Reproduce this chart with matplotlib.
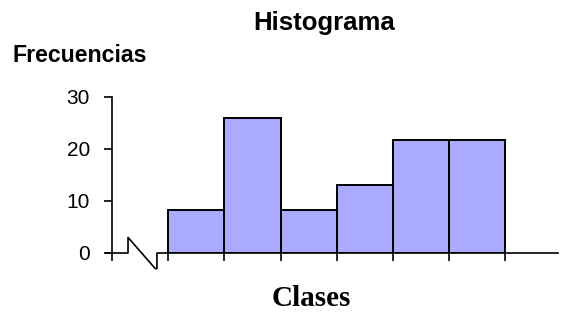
import matplotlib.pyplot as plt
import numpy as np

# class frequencies
edges = [1, 2, 3, 4, 5, 6, 7]
freqs = [8.3, 26, 8.3, 13, 21.7, 21.7]
yticks = [0, 10, 20, 30]

fig = plt.figure(figsize=(5.63, 3.12), dpi=100)
ax = fig.add_axes([106 / 563, 59 / 312, 452 / 563, 156 / 312])

widths = np.diff(edges)
ax.bar(edges[:-1], freqs, width=widths, align='edge',
       color='#aaaaff', edgecolor='black', linewidth=1.4, zorder=2)

ax.set_xlim(-0.107, 7.94)
ax.set_ylim(0, 30)

for s in ['top', 'right', 'bottom']:
    ax.spines[s].set_visible(False)
ax.spines['left'].set_position(('data', 0))
ax.spines['left'].set_linewidth(1.2)

# x axis with the break symbol
bx = [-0.107, 0.285, 0.285, 0.77, 0.80, 0.80, 7.94]
by = [0, 0, 3.0, -3.0, -3.0, 0, 0]
ax.plot(bx, by, color='black', linewidth=1.2, clip_on=False, zorder=3)

ax.set_xticks(range(0, 8))
ax.set_xticklabels([])
ax.tick_params(axis='x', length=6, width=1.2, direction='out')
ax.set_yticks(yticks)
ax.tick_params(axis='y', length=6, width=1.2, labelsize=15, pad=10)
for lab in ax.get_yticklabels():
    lab.set_family('Liberation Sans')

fig.text(324 / 563, 1 - 23 / 312, 'Histograma', ha='center', va='center',
         fontsize=18.5, fontweight='bold', family='Liberation Sans')
fig.text(13 / 563, 1 - 55 / 312, 'Frecuencias', ha='left', va='center',
         fontsize=16.7, fontweight='bold', family='Liberation Sans')
fig.text(311 / 563, 1 - 298 / 312, 'Clases', ha='center', va='center',
         fontsize=21, fontweight='bold', family='Liberation Serif')

fig.savefig('out.png', dpi=100)
